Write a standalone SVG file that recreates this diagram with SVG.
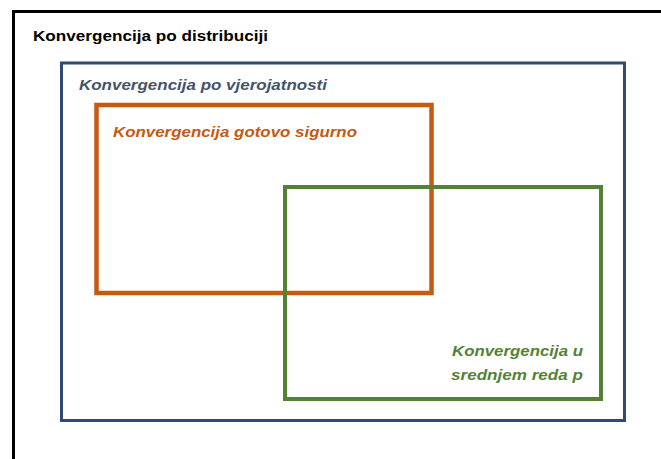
<svg xmlns="http://www.w3.org/2000/svg" width="661" height="459" viewBox="0 0 661 459">
<style>
text{font-family:"Liberation Sans","Noto Sans",Arial,sans-serif;font-weight:bold;font-size:15.5px}
.it{font-style:italic}
.box{fill:none}
</style>
<rect width="661" height="459" fill="#ffffff"/>
<g id="distribucija">
<rect class="box" x="13.5" y="11.5" width="660" height="460" stroke="#000000" stroke-width="3"/>
<text x="33" y="41" fill="#000000" textLength="235" lengthAdjust="spacingAndGlyphs">Konvergencija po distribuciji</text>
</g>
<g id="vjerojatnost">
<rect class="box" x="61.5" y="63" width="563" height="357.5" stroke="#2f4a77" stroke-width="3"/>
<text class="it" x="79" y="89.5" fill="#44546a" textLength="248" lengthAdjust="spacingAndGlyphs">Konvergencija po vjerojatnosti</text>
</g>
<g id="gotovo-sigurno">
<rect class="box" x="96.5" y="105" width="335" height="188" stroke="#c55a11" stroke-width="4.5"/>
<text class="it" x="113" y="136.5" fill="#c55a11" textLength="244" lengthAdjust="spacingAndGlyphs">Konvergencija gotovo sigurno</text>
</g>
<g id="srednje">
<rect class="box" x="285" y="187" width="316" height="212" stroke="#548235" stroke-width="4"/>
<text class="it" x="452" y="355.5" fill="#548235" textLength="131" lengthAdjust="spacingAndGlyphs">Konvergencija u</text>
<text class="it" x="451" y="379.5" fill="#548235" textLength="132" lengthAdjust="spacingAndGlyphs">srednjem reda p</text>
</g>
<g id="connectors"></g>
</svg>
